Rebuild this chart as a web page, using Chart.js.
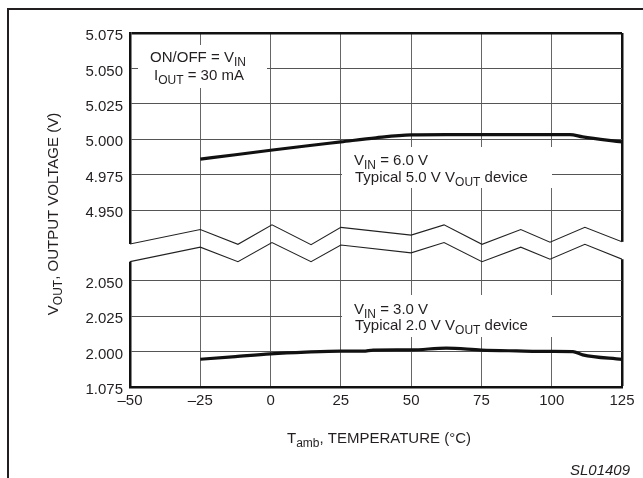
<!DOCTYPE html>
<html><head><meta charset="utf-8">
<script src="https://cdn.jsdelivr.net/npm/chart.js@4/dist/chart.umd.min.js"></script>
<style>html,body{margin:0;padding:0;background:#fff}#wrap{width:643px;height:478px;position:relative}</style>
</head><body><div id="wrap"><canvas id="c" width="643" height="478"></canvas></div>
<script>
// ---- data ----
const temps5 = [-25, -12.5, 0, 12.5, 25, 37.5, 50, 62.5, 75, 87.5, 100, 106.5, 111, 125];
const vout5  = [4.9859, 4.989, 4.9922, 4.9952, 4.9981, 5.001, 5.003, 5.0032, 5.0032, 5.0032, 5.0032, 5.0032, 5.0016, 4.9981];
const temps2 = [-25, -12.5, 0, 12.5, 25, 33, 36.5, 50, 62.5, 75, 87.5, 100, 107.5, 111, 125];
const vout2  = [1.9946, 1.9965, 1.9984, 1.9996, 2.0003, 2.0003, 2.0011, 2.0012, 2.0025, 2.0011, 2.0005, 2.0001, 2.0000, 1.9977, 1.9945];
// axis-break zigzags (x in °C, y in axis index units)
const zigT     = [-50, -25, -11.6, 0.5, 14.4, 25, 50, 61.7, 75.2, 89, 99.4, 111.8, 125];
const zigUpper = [4.04, 4.45, 4.03, 4.58, 4.02, 4.51, 4.29, 4.58, 4.03, 4.45, 4.09, 4.51, 4.10];
const zigLower = [3.54, 3.95, 3.54, 4.08, 3.54, 4.01, 3.79, 4.08, 3.54, 3.95, 3.61, 4.03, 3.61];
const yTickLabels = ['1.075', '2.000', '2.025', '2.050', '', '4.950', '4.975', '5.000', '5.025', '5.050', '5.075'];
const xTickLabels = ['\u201350', '\u201325', '0', '25', '50', '75', '100', '125'];
const xTickValues = [-50, -25, 0, 25, 50, 75, 100, 125];

// broken-axis mapping: voltage -> axis index
const idx5 = v => 7 + (v - 5.000) / 0.025;
const idx2 = v => 1 + (v - 2.000) / 0.025;

const FONT = '"Liberation Sans", Arial, Helvetica, sans-serif';
const TXT = '#231f20';

function drawRich(ctx, parts, x, y, align, size) {
  size = size || 15;
  const main = size + 'px ' + FONT, sub = Math.round(size * 0.8) + 'px ' + FONT;
  let w = 0;
  parts.forEach(p => { ctx.font = p.s ? sub : main; w += ctx.measureText(p.t).width; });
  let cx = align === 'center' ? x - w / 2 : align === 'right' ? x - w : x;
  ctx.textAlign = 'left'; ctx.textBaseline = 'alphabetic'; ctx.fillStyle = TXT;
  parts.forEach(p => {
    ctx.font = p.s ? sub : main;
    ctx.fillText(p.t, cx, y + (p.s ? 4 : 0));
    cx += ctx.measureText(p.t).width;
  });
  return w;
}

const decor = {
  id: 'decor',
  beforeDraw(chart) {
    const ctx = chart.ctx;
    ctx.save();
    ctx.fillStyle = '#fff'; ctx.fillRect(0, 0, chart.width, chart.height);
    ctx.fillStyle = '#231f20';
    ctx.fillRect(7, 8, chart.width - 7, 2);   // outer frame top
    ctx.fillRect(7, 8, 2, chart.height - 8);  // outer frame left
    ctx.restore();
  },
  beforeDatasetsDraw(chart) {
    // open the axis borders between the two zigzags
    const ctx = chart.ctx, a = chart.chartArea, ys = chart.scales.y;
    ctx.save(); ctx.fillStyle = '#fff';
    const yl1 = ys.getPixelForValue(zigUpper[0]), yl2 = ys.getPixelForValue(zigLower[0]);
    ctx.fillRect(a.left - 3, yl1, 6, yl2 - yl1);
    const n = zigT.length - 1;
    const yr1 = ys.getPixelForValue(zigUpper[n]), yr2 = ys.getPixelForValue(zigLower[n]);
    ctx.fillRect(a.right - 3, yr1, 6, yr2 - yr1);
    ctx.restore();
  },
  afterDraw(chart) {
    const ctx = chart.ctx;
    ctx.save();
    // annotation boxes
    ctx.fillStyle = '#fff';
    ctx.fillRect(138, 45, 129, 43);
    ctx.fillRect(342, 147, 210, 41);
    ctx.fillRect(342, 295, 210, 42);
    drawRich(ctx, [{t: 'ON/OFF = V'}, {t: 'IN', s: 1}], 198, 62, 'center');
    drawRich(ctx, [{t: 'I'}, {t: 'OUT', s: 1}, {t: ' = 30 mA'}], 199, 80, 'center');
    drawRich(ctx, [{t: 'V'}, {t: 'IN', s: 1}, {t: ' = 6.0 V'}], 354, 165, 'left');
    drawRich(ctx, [{t: 'Typical 5.0 V V'}, {t: 'OUT', s: 1}, {t: ' device'}], 355, 182, 'left');
    drawRich(ctx, [{t: 'V'}, {t: 'IN', s: 1}, {t: ' = 3.0 V'}], 354, 314, 'left');
    drawRich(ctx, [{t: 'Typical 2.0 V V'}, {t: 'OUT', s: 1}, {t: ' device'}], 355, 330, 'left');
    // axis titles
    drawRich(ctx, [{t: 'T'}, {t: 'amb', s: 1}, {t: ', TEMPERATURE (\u00B0C)'}], 379, 443, 'center');
    ctx.save();
    ctx.translate(58, 214); ctx.rotate(-Math.PI / 2);
    drawRich(ctx, [{t: 'V'}, {t: 'OUT', s: 1}, {t: ', OUTPUT VOLTAGE (V)'}], 0, 0, 'center');
    ctx.restore();
    ctx.font = 'italic 15px ' + FONT; ctx.fillStyle = TXT;
    ctx.textAlign = 'right'; ctx.textBaseline = 'alphabetic';
    ctx.fillText('SL01409', 630, 475);
    ctx.restore();
  }
};

const pts = (xs, ys, f) => xs.map((x, i) => ({x: x, y: f ? f(ys[i]) : ys[i]}));

new Chart(document.getElementById('c'), {
  type: 'line',
  data: {
    datasets: [
      {label: 'VIN = 6.0 V', data: pts(temps5, vout5, idx5), borderColor: '#111', borderWidth: 3.2, pointRadius: 0, tension: 0.3, cubicInterpolationMode: 'monotone'},
      {label: 'VIN = 3.0 V', data: pts(temps2, vout2, idx2), borderColor: '#111', borderWidth: 3.2, pointRadius: 0, tension: 0.3, cubicInterpolationMode: 'monotone'},
      {label: 'break upper', data: pts(zigT, zigUpper), borderColor: '#222', borderWidth: 1.1, pointRadius: 0, tension: 0},
      {label: 'break lower', data: pts(zigT, zigLower), borderColor: '#222', borderWidth: 1.1, pointRadius: 0, tension: 0}
    ]
  },
  options: {
    responsive: false, animation: false, devicePixelRatio: 1,
    layout: {padding: {top: 33, right: 21, left: 0, bottom: 0}},
    plugins: {legend: {display: false}, tooltip: {enabled: false}},
    scales: {
      x: {
        type: 'linear', min: -50, max: 125,
        afterBuildTicks: s => { s.ticks = xTickValues.map(v => ({value: v})); },
        afterFit: s => { s.height = 91; },
        ticks: {
          padding: 5, color: TXT, font: {family: FONT, size: 15},
          callback: (v) => xTickLabels[xTickValues.indexOf(v)],
          maxRotation: 0, autoSkip: false
        },
        grid: {
          drawTicks: false,
          color: c => c.tick && c.tick.value === 125 ? '#111' : '#666',
          lineWidth: c => c.tick && c.tick.value === 125 ? 2.5 : 1
        },
        border: {display: true, color: '#111', width: 2.5}
      },
      y: {
        type: 'linear', min: 0, max: 10,
        afterBuildTicks: s => { s.ticks = yTickLabels.map((l, i) => ({value: i})); },
        afterFit: s => { s.width = 130; },
        ticks: {
          padding: 7, labelOffset: 3, color: TXT, font: {family: FONT, size: 15},
          callback: (v) => yTickLabels[v], autoSkip: false
        },
        grid: {
          drawTicks: false,
          color: c => !c.tick ? '#555' : c.tick.value === 4 ? 'rgba(0,0,0,0)' : c.tick.value === 10 ? '#111' : '#555',
          lineWidth: c => c.tick && c.tick.value === 10 ? 2.5 : 1
        },
        border: {display: true, color: '#111', width: 2.5}
      }
    }
  },
  plugins: [decor]
});
</script>
</body></html>
